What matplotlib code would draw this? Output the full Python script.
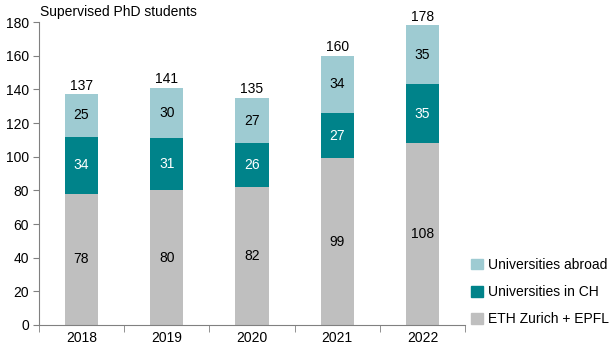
import numpy as np
import matplotlib.pyplot as plt
from matplotlib.patches import Patch

plt.rcParams['font.family'] = ['Liberation Sans', 'DejaVu Sans']

years = ['2018', '2019', '2020', '2021', '2022']
eth_epfl = [78, 80, 82, 99, 108]
univ_ch = [34, 31, 26, 27, 35]
univ_abroad = [25, 30, 27, 34, 35]
totals = [137, 141, 135, 160, 178]

c_eth = '#bfbfbf'
c_ch = '#00838a'
c_abroad = '#9ecbd2'
axis_col = '#808080'

fig = plt.figure(figsize=(6.16, 3.45), dpi=100)
ax = fig.add_axes([0.063, 0.058, 0.692, 0.878])

x = np.arange(len(years))
w = 0.39
ax.bar(x, eth_epfl, w, color=c_eth)
ax.bar(x, univ_ch, w, bottom=eth_epfl, color=c_ch)
bottom3 = np.array(eth_epfl) + np.array(univ_ch)
ax.bar(x, univ_abroad, w, bottom=bottom3, color=c_abroad)

# segment labels + totals
for i in range(len(years)):
    ax.text(x[i], eth_epfl[i] / 2, str(eth_epfl[i]), ha='center', va='center', fontsize=10)
    ax.text(x[i], eth_epfl[i] + univ_ch[i] / 2, str(univ_ch[i]), ha='center', va='center',
            fontsize=10, color='white')
    ax.text(x[i], bottom3[i] + univ_abroad[i] / 2, str(univ_abroad[i]), ha='center', va='center',
            fontsize=10)
    ax.text(x[i], totals[i] + 1, str(totals[i]), ha='center', va='bottom', fontsize=10)

ax.set_xlim(-0.5, len(years) - 0.5)
ax.set_ylim(0, 180)
ax.set_yticks(range(0, 181, 20))
ax.set_xticks(x)
ax.set_xticklabels(years)
ax.tick_params(axis='x', length=0, labelsize=10, pad=4)
ax.set_xticks(np.arange(-0.5, len(years)), minor=True)
ax.tick_params(axis='x', which='minor', length=5, color=axis_col, direction='out')
ax.tick_params(axis='y', length=4, color=axis_col, labelsize=10, pad=3)

for s in ['top', 'right']:
    ax.spines[s].set_visible(False)
for s in ['left', 'bottom']:
    ax.spines[s].set_color(axis_col)

fig.text(0.065, 0.965, 'Supervised PhD students', ha='left', va='center', fontsize=10)

handles = [Patch(color=c_abroad, label='Universities abroad'),
           Patch(color=c_ch, label='Universities in CH'),
           Patch(color=c_eth, label='ETH Zurich + EPFL')]
fig.legend(handles=handles, loc='lower left', bbox_to_anchor=(0.745, 0.018), frameon=False,
           fontsize=10, handlelength=0.8, handleheight=0.8, labelspacing=0.95, handletextpad=0.4)

fig.savefig('out.png', dpi=100)
